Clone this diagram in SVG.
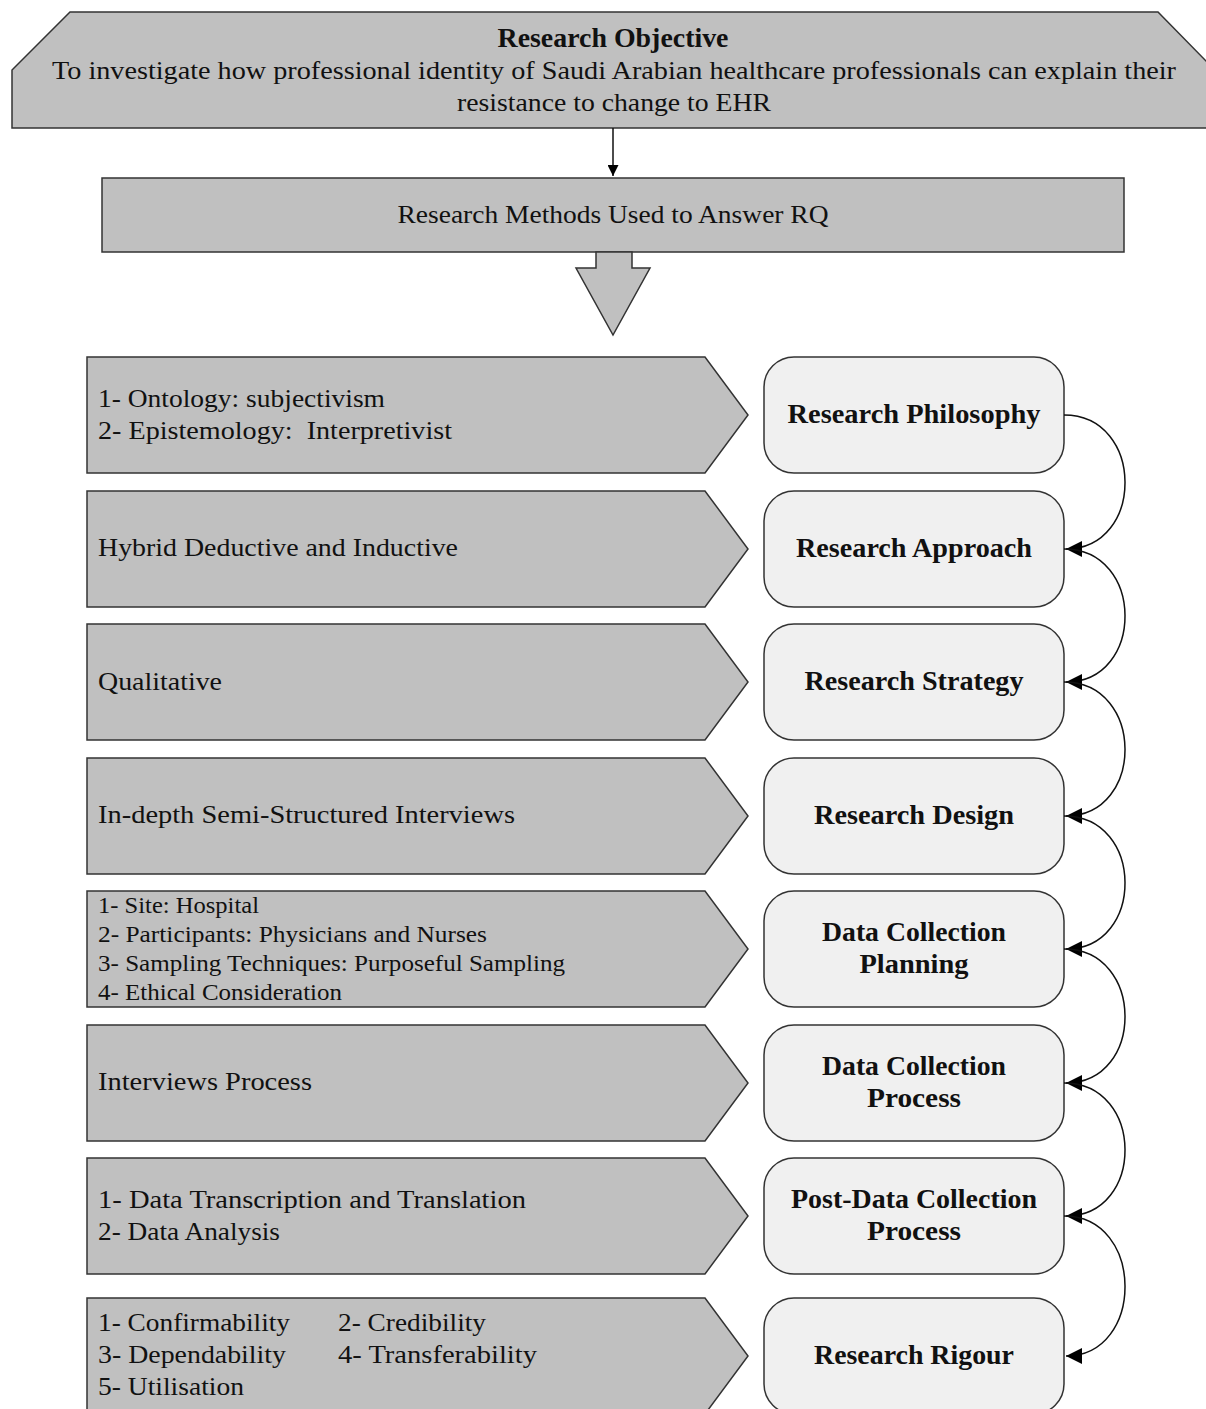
<svg xmlns="http://www.w3.org/2000/svg" width="1206" height="1409" viewBox="0 0 1206 1409">
  <style>
    .shape { fill: #c0c0c0; stroke: #333; stroke-width: 1.5; }
    .stage { fill: #f0f0f0; stroke: #333; stroke-width: 1.5; }
    .txt { font-family: "Liberation Serif", "DejaVu Serif", serif; font-size: 26px; fill: #111; }
    .small { font-size: 23px; }
    .bold { font-weight: bold; font-size: 27px; }
    .mid { text-anchor: middle; }
    .link { fill: none; stroke: #111; stroke-width: 1.5; }
  </style>
  <defs>
    <marker id="tri" viewBox="0 0 10 10" refX="10" refY="5" markerWidth="16" markerHeight="11" markerUnits="userSpaceOnUse" orient="auto">
      <path d="M0,0 L10,5 L0,10 z" fill="#000"/>
    </marker>
    <marker id="tri2" viewBox="0 0 10 10" refX="10" refY="5" markerWidth="24" markerHeight="16" markerUnits="userSpaceOnUse" orient="auto">
      <path d="M0,0 L10,5 L0,10 z" fill="#000"/>
    </marker>
  </defs>

  <!-- objective banner -->
  <g id="objective">
    <polygon class="shape" points="70,12 1158,12 1207,62 1207,128 12,128 12,70"/>
    <text class="txt bold mid" x="613" y="47" textLength="231" lengthAdjust="spacingAndGlyphs">Research Objective</text>
    <text class="txt mid" x="614" y="79" textLength="1124" lengthAdjust="spacingAndGlyphs">To investigate how professional identity of Saudi Arabian healthcare professionals can explain their</text>
    <text class="txt mid" x="614" y="111" textLength="314" lengthAdjust="spacingAndGlyphs">resistance to change to EHR</text>
  </g>

  <!-- methods banner with block arrow -->
  <g id="methods">
    <rect class="shape" x="102" y="178" width="1022" height="74"/>
    <text class="txt mid" x="613" y="223" textLength="431" lengthAdjust="spacingAndGlyphs">Research Methods Used to Answer RQ</text>
    <polygon class="shape" points="596,252 632,252 632,268 650,268 613,335 576,268 596,268"/>
  </g>

  <!-- left descriptions -->
  <g id="d1">
    <polygon class="shape" points="87,357 705,357 748,415 705,473 87,473"/>
    <text class="txt" x="98" y="407" textLength="287" lengthAdjust="spacingAndGlyphs">1- Ontology: subjectivism</text>
    <text class="txt" x="98" y="439" textLength="354" lengthAdjust="spacingAndGlyphs">2- Epistemology:&#160; Interpretivist</text>
  </g>
  <g id="d2">
    <polygon class="shape" points="87,491 705,491 748,549 705,607 87,607"/>
    <text class="txt" x="98" y="556" textLength="360" lengthAdjust="spacingAndGlyphs">Hybrid Deductive and Inductive</text>
  </g>
  <g id="d3">
    <polygon class="shape" points="87,624 705,624 748,682 705,740 87,740"/>
    <text class="txt" x="98" y="690" textLength="124" lengthAdjust="spacingAndGlyphs">Qualitative</text>
  </g>
  <g id="d4">
    <polygon class="shape" points="87,758 705,758 748,816 705,874 87,874"/>
    <text class="txt" x="98" y="823" textLength="417" lengthAdjust="spacingAndGlyphs">In-depth Semi-Structured Interviews</text>
  </g>
  <g id="d5">
    <polygon class="shape" points="87,891 705,891 748,949 705,1007 87,1007"/>
    <text class="txt small" x="98" y="913" textLength="161" lengthAdjust="spacingAndGlyphs">1- Site: Hospital</text>
    <text class="txt small" x="98" y="942" textLength="389" lengthAdjust="spacingAndGlyphs">2- Participants: Physicians and Nurses</text>
    <text class="txt small" x="98" y="971" textLength="467" lengthAdjust="spacingAndGlyphs">3- Sampling Techniques: Purposeful Sampling</text>
    <text class="txt small" x="98" y="1000" textLength="244" lengthAdjust="spacingAndGlyphs">4- Ethical Consideration</text>
  </g>
  <g id="d6">
    <polygon class="shape" points="87,1025 705,1025 748,1083 705,1141 87,1141"/>
    <text class="txt" x="98" y="1090" textLength="214" lengthAdjust="spacingAndGlyphs">Interviews Process</text>
  </g>
  <g id="d7">
    <polygon class="shape" points="87,1158 705,1158 748,1216 705,1274 87,1274"/>
    <text class="txt" x="98" y="1208" textLength="428" lengthAdjust="spacingAndGlyphs">1- Data Transcription and Translation</text>
    <text class="txt" x="98" y="1240" textLength="182" lengthAdjust="spacingAndGlyphs">2- Data Analysis</text>
  </g>
  <g id="d8">
    <polygon class="shape" points="87,1298 705,1298 748,1356 705,1414 87,1414"/>
    <text class="txt" x="98" y="1331" textLength="192" lengthAdjust="spacingAndGlyphs">1- Confirmability</text>
    <text class="txt" x="338" y="1331" textLength="148" lengthAdjust="spacingAndGlyphs">2- Credibility</text>
    <text class="txt" x="98" y="1363" textLength="188" lengthAdjust="spacingAndGlyphs">3- Dependability</text>
    <text class="txt" x="338" y="1363" textLength="199" lengthAdjust="spacingAndGlyphs">4- Transferability</text>
    <text class="txt" x="98" y="1395" textLength="146" lengthAdjust="spacingAndGlyphs">5- Utilisation</text>
  </g>

  <!-- stage boxes -->
  <g id="s1">
    <rect class="stage" x="764" y="357" width="300" height="116" rx="30"/>
    <text class="txt bold mid" x="914" y="423" textLength="253" lengthAdjust="spacingAndGlyphs">Research Philosophy</text>
  </g>
  <g id="s2">
    <rect class="stage" x="764" y="491" width="300" height="116" rx="30"/>
    <text class="txt bold mid" x="914" y="557" textLength="236" lengthAdjust="spacingAndGlyphs">Research Approach</text>
  </g>
  <g id="s3">
    <rect class="stage" x="764" y="624" width="300" height="116" rx="30"/>
    <text class="txt bold mid" x="914" y="690" textLength="219" lengthAdjust="spacingAndGlyphs">Research Strategy</text>
  </g>
  <g id="s4">
    <rect class="stage" x="764" y="758" width="300" height="116" rx="30"/>
    <text class="txt bold mid" x="914" y="824" textLength="200" lengthAdjust="spacingAndGlyphs">Research Design</text>
  </g>
  <g id="s5">
    <rect class="stage" x="764" y="891" width="300" height="116" rx="30"/>
    <text class="txt bold mid" x="914" y="941" textLength="184" lengthAdjust="spacingAndGlyphs">Data Collection</text>
    <text class="txt bold mid" x="914" y="973" textLength="109" lengthAdjust="spacingAndGlyphs">Planning</text>
  </g>
  <g id="s6">
    <rect class="stage" x="764" y="1025" width="300" height="116" rx="30"/>
    <text class="txt bold mid" x="914" y="1075" textLength="184" lengthAdjust="spacingAndGlyphs">Data Collection</text>
    <text class="txt bold mid" x="914" y="1107" textLength="94" lengthAdjust="spacingAndGlyphs">Process</text>
  </g>
  <g id="s7">
    <rect class="stage" x="764" y="1158" width="300" height="116" rx="30"/>
    <text class="txt bold mid" x="914" y="1208" textLength="246" lengthAdjust="spacingAndGlyphs">Post-Data Collection</text>
    <text class="txt bold mid" x="914" y="1240" textLength="94" lengthAdjust="spacingAndGlyphs">Process</text>
  </g>
  <g id="s8">
    <rect class="stage" x="764" y="1298" width="300" height="116" rx="30"/>
    <text class="txt bold mid" x="914" y="1364" textLength="200" lengthAdjust="spacingAndGlyphs">Research Rigour</text>
  </g>

  <!-- connectors -->
  <g id="connectors">
    <line class="link" x1="613" y1="128" x2="613" y2="176" marker-end="url(#tri)"/>
    <path class="link" d="M1064,415 C1145,415 1145,549 1066,549" marker-end="url(#tri2)"/>
    <path class="link" d="M1064,549 C1145,549 1145,682 1066,682" marker-end="url(#tri2)"/>
    <path class="link" d="M1064,682 C1145,682 1145,816 1066,816" marker-end="url(#tri2)"/>
    <path class="link" d="M1064,816 C1145,816 1145,949 1066,949" marker-end="url(#tri2)"/>
    <path class="link" d="M1064,949 C1145,949 1145,1083 1066,1083" marker-end="url(#tri2)"/>
    <path class="link" d="M1064,1083 C1145,1083 1145,1216 1066,1216" marker-end="url(#tri2)"/>
    <path class="link" d="M1064,1216 C1145,1216 1145,1356 1066,1356" marker-end="url(#tri2)"/>
  </g>
</svg>
